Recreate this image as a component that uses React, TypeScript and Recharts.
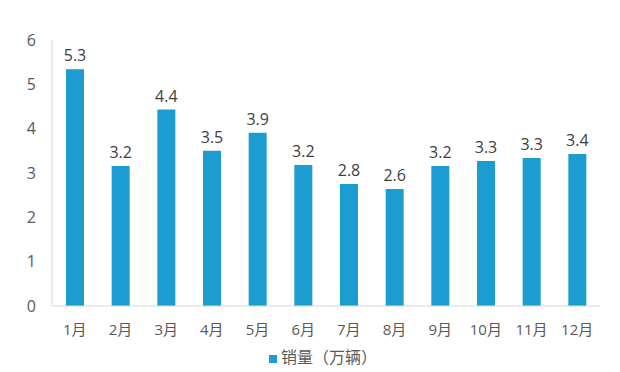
import { BarChart, Bar, XAxis, YAxis, Legend, LabelList } from 'recharts';

const months = ['1月', '2月', '3月', '4月', '5月', '6月', '7月', '8月', '9月', '10月', '11月', '12月'];
const sales = [5.34, 3.16, 4.43, 3.5, 3.91, 3.18, 2.75, 2.64, 3.16, 3.27, 3.34, 3.43];
const yTicks = [0, 1, 2, 3, 4, 5, 6];

const data = months.map((m, i) => ({ month: m, value: sales[i] }));

const font = '"Open Sans", "Noto Sans CJK SC", sans-serif';

export default function App() {
    return (
        <div style={{ position: 'absolute', left: 0, top: 0, width: 620, height: 372, background: '#fff' }}>
            <BarChart
                width={620}
                height={372}
                data={data}
                margin={{ top: 40, right: 20, left: 0, bottom: 4 }}
            >
                <XAxis
                    dataKey="month"
                    height={38}
                    axisLine={{ stroke: '#d9d9d9' }}
                    tickLine={false}
                    tick={{ fontSize: 15, fill: '#595959', fontFamily: font }}
                    tickMargin={12}
                />
                <YAxis
                    domain={[0, 6]}
                    ticks={yTicks}
                    width={52}
                    axisLine={{ stroke: '#d9d9d9' }}
                    tickLine={false}
                    tickMargin={10}
                    tick={{ fontSize: 16, fill: '#595959', fontFamily: font }}
                />
                <Legend
                    verticalAlign="bottom"
                    iconType="square"
                    iconSize={8}
                    wrapperStyle={{ fontFamily: font, fontSize: 16, color: '#595959', left: 38, width: 580 }}
                    formatter={() => (
                        <span style={{ color: '#595959', fontSize: 16, fontFamily: '"Noto Sans CJK SC", sans-serif' }}>
                            销量（万辆）
                        </span>
                    )}
                />
                <Bar dataKey="value" name="销量（万辆）" fill="#1B9DD2" barSize={18} isAnimationActive={false}>
                    <LabelList
                        dataKey="value"
                        position="top"
                        offset={8}
                        formatter={(v: number) => v.toFixed(1)}
                        style={{ fontSize: 16, fill: '#404040', fontFamily: font }}
                    />
                </Bar>
            </BarChart>
        </div>
    );
}
